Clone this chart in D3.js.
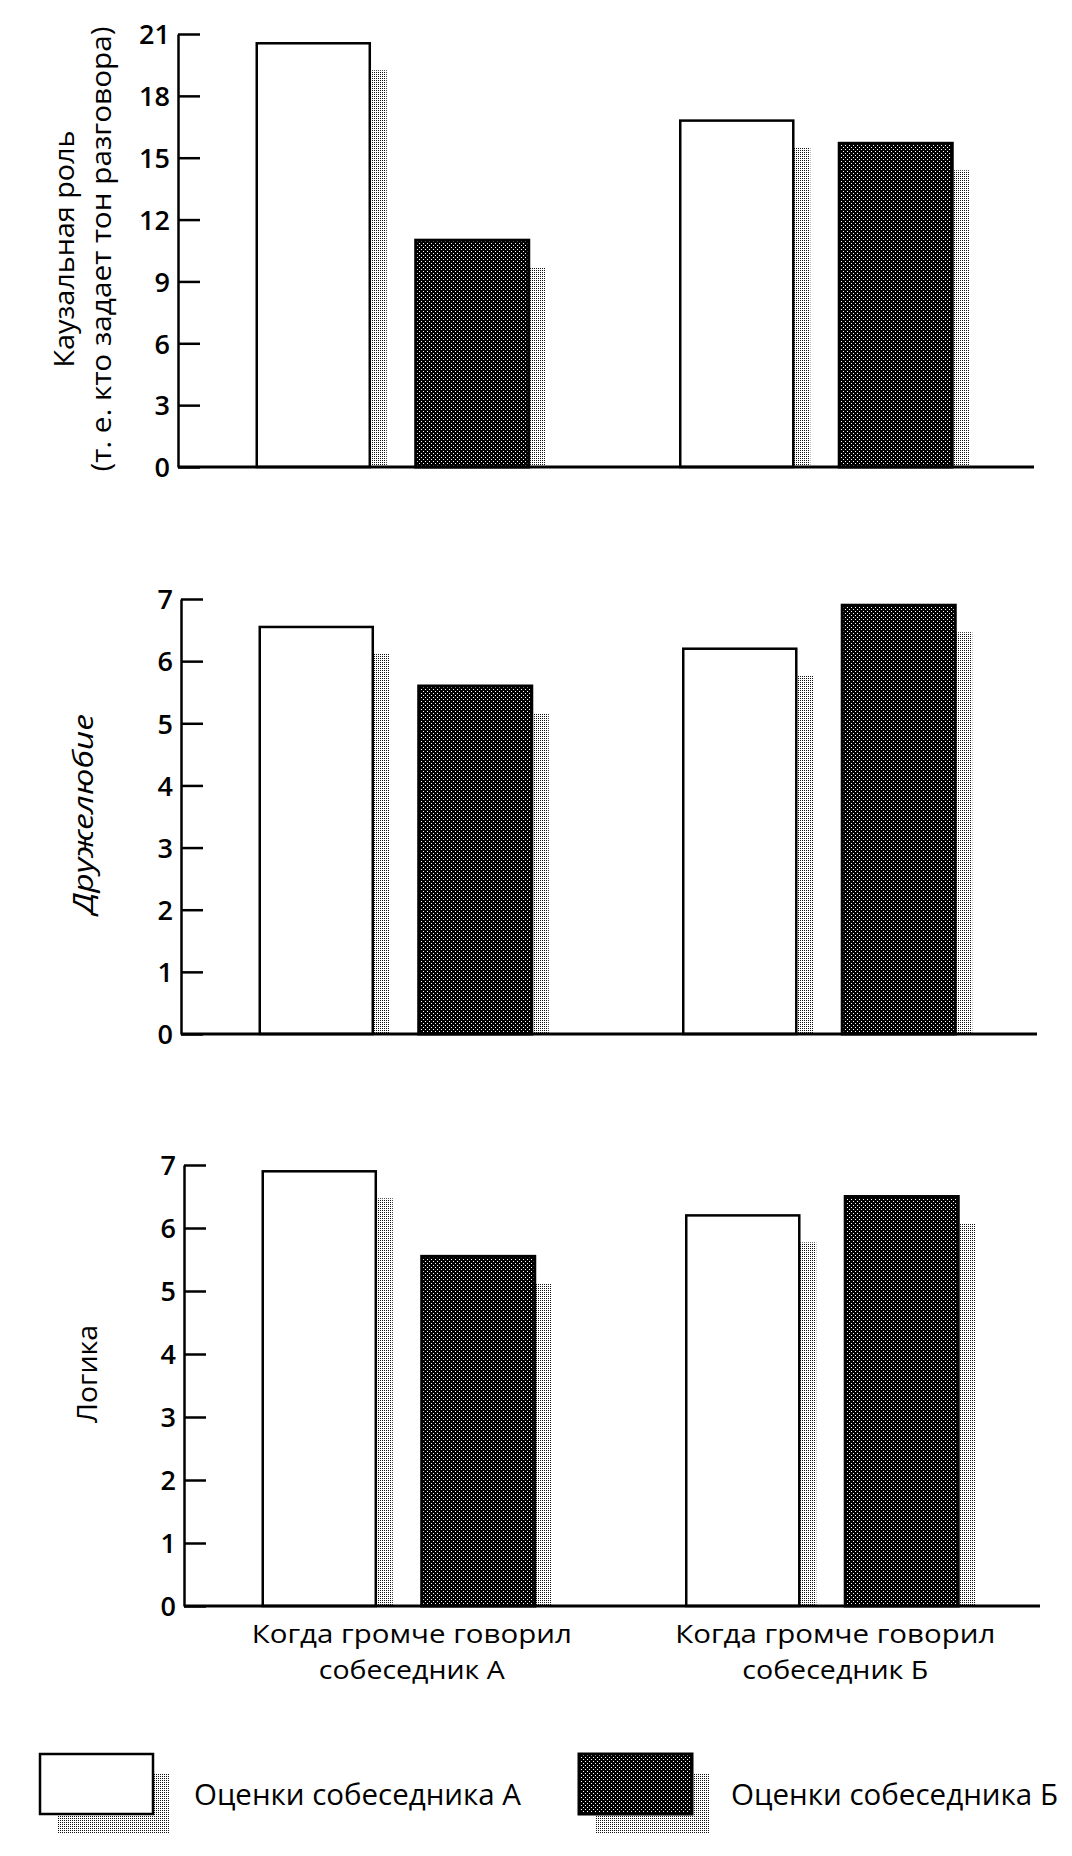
<!DOCTYPE html>
<html>
<head>
<meta charset="utf-8">
<script src="https://cdn.jsdelivr.net/npm/d3@7"></script>
<style>
  html, body { margin: 0; padding: 0; background: #fff; }
  svg { display: block; }
  text { font-family: "Open Sans", "Noto Sans", "DejaVu Sans", sans-serif; fill: #000; }
</style>
</head>
<body>
<svg id="chart" width="1072" height="1856"></svg>
<script>
// ---------- DATA ----------
const categories = ["Когда громче говорил собеседник А", "Когда громче говорил собеседник Б"];
const categoryLines = [["Когда громче говорил", "собеседник А"], ["Когда громче говорил", "собеседник Б"]];
const series = ["Оценки собеседника А", "Оценки собеседника Б"];

// values per category: [rating by A, rating by B]
const causalValues = [[20.55, 11.0], [16.8, 15.7]];
const friendlyValues = [[6.55, 5.6], [6.2, 6.9]];
const logicValues = [[6.9, 5.55], [6.2, 6.5]];

const causalTicks = [0, 3, 6, 9, 12, 15, 18, 21];
const sevenTicks = [0, 1, 2, 3, 4, 5, 6, 7];

const causalTitle = ["Каузальная роль", "(т. е. кто задает тон разговора)"];
const friendlyTitle = ["Дружелюбие"];
const logicTitle = ["Логика"];

// ---------- LAYOUT ----------
const panels = [
  { values: causalValues, ticks: causalTicks, max: 21, y0: 467, y1: 34, shift: 0,
    title: causalTitle, titleX: [74, 111], titleLen: [237, 445], titleY: 249, italic: false },
  { values: friendlyValues, ticks: sevenTicks, max: 7, y0: 1034, y1: 599, shift: 3,
    title: friendlyTitle, titleX: [93], titleLen: [200], titleY: 814, italic: true },
  { values: logicValues, ticks: sevenTicks, max: 7, y0: 1606, y1: 1165, shift: 6,
    title: logicTitle, titleX: [97], titleLen: [98], titleY: 1374, italic: false }
];

const svg = d3.select("#chart");
const defs = svg.append("defs");

// dark stipple fill
const pDark = defs.append("pattern").attr("id", "dark").attr("patternUnits", "userSpaceOnUse")
  .attr("width", 4).attr("height", 4);
pDark.append("rect").attr("width", 4).attr("height", 4).attr("fill", "#000");
pDark.append("rect").attr("x", 1).attr("y", 1).attr("width", 1).attr("height", 1).attr("fill", "#fff");
pDark.append("rect").attr("x", 3).attr("y", 3).attr("width", 1).attr("height", 1).attr("fill", "#fff");

// light shadow stipple
const pShade = defs.append("pattern").attr("id", "shade").attr("patternUnits", "userSpaceOnUse")
  .attr("width", 2).attr("height", 2);
pShade.append("rect").attr("width", 2).attr("height", 2).attr("fill", "#fff");
pShade.append("rect").attr("x", 0).attr("y", 0).attr("width", 1).attr("height", 1).attr("fill", "#111");

const fills = ["#fff", "url(#dark)"];
const strokes = [2.5, 3];
const shadowDx = 17, shadowDy = 27;

panels.forEach((p, pi) => {
  const g = svg.append("g");
  const axisX = 178 + p.shift;
  const endX = 1034 + p.shift;

  const y = d3.scaleLinear().domain([0, p.max]).range([p.y0, p.y1]);
  const xc = d3.scaleBand().domain(categories).range([181 + p.shift, 1028 + p.shift]).padding(0);
  const xs = d3.scaleBand().domain(series).range([75.75, 347.75]).paddingInner(0.289).paddingOuter(0);
  const bw = xs.bandwidth();

  const items = [];
  categories.forEach((c, ci) => series.forEach((s, si) => items.push({ c, ci, s, si, v: p.values[ci][si] })));

  // shadows
  g.selectAll("rect.shadow").data(items).join("rect")
    .attr("class", "shadow")
    .attr("x", d => xc(d.c) + xs(d.s) + shadowDx)
    .attr("y", d => y(d.v) + shadowDy)
    .attr("width", bw)
    .attr("height", d => Math.max(0, p.y0 - (y(d.v) + shadowDy)))
    .attr("fill", "url(#shade)");

  // bars
  g.selectAll("rect.bar").data(items).join("rect")
    .attr("class", "bar")
    .attr("x", d => xc(d.c) + xs(d.s))
    .attr("y", d => y(d.v))
    .attr("width", bw)
    .attr("height", d => p.y0 - y(d.v))
    .attr("fill", d => fills[d.si])
    .attr("stroke", "#000")
    .attr("stroke-width", d => strokes[d.si]);

  // baseline
  g.append("line").attr("x1", axisX).attr("x2", endX).attr("y1", p.y0).attr("y2", p.y0)
    .attr("stroke", "#000").attr("stroke-width", 3);

  // y axis
  const ax = g.append("g").attr("transform", `translate(${axisX},0)`)
    .call(d3.axisLeft(y).tickValues(p.ticks).tickSizeInner(-22).tickSizeOuter(0).tickPadding(8)
      .tickFormat(d3.format("d")));
  ax.attr("font-size", null).attr("font-family", null);
  ax.select(".domain").attr("stroke", "#000").attr("stroke-width", 2.5);
  ax.selectAll(".tick line").attr("stroke", "#000").attr("stroke-width", 2.5);
  ax.selectAll(".tick text").attr("font-size", 27).attr("font-weight", 600).attr("fill", "#000")
    .attr("dy", "0.36em");

  // y title
  p.title.forEach((t, ti) => {
    g.append("text")
      .attr("transform", `translate(${p.titleX[ti]},${p.titleY}) rotate(-90)`)
      .attr("text-anchor", "middle")
      .attr("font-size", 28)
      .attr("font-style", p.italic ? "italic" : "normal")
      .attr("textLength", p.titleLen[ti]).attr("lengthAdjust", "spacingAndGlyphs")
      .text(t);
  });

  // category labels only on the bottom panel
  if (pi === panels.length - 1) {
    categories.forEach((c, ci) => {
      const cx = xc(c) + xc.bandwidth() / 2 + 13;
      const lens = [320, 186];
      categoryLines[ci].forEach((line, li) => {
        g.append("text")
          .attr("x", cx)
          .attr("y", p.y0 + 37 + li * 36)
          .attr("text-anchor", "middle")
          .attr("font-size", 26)
          .attr("textLength", lens[li]).attr("lengthAdjust", "spacingAndGlyphs")
          .text(line);
      });
    });
  }
});

// ---------- LEGEND ----------
const legend = svg.append("g");
const legendX = [40, 579];
const legendTextX = [194, 731];
const legendY = 1754, boxW = 113, boxH = 60;
series.forEach((s, si) => {
  legend.append("rect").attr("x", legendX[si] + 17).attr("y", legendY + 20)
    .attr("width", boxW).attr("height", boxH).attr("fill", "url(#shade)");
  legend.append("rect").attr("x", legendX[si]).attr("y", legendY)
    .attr("width", boxW).attr("height", boxH)
    .attr("fill", fills[si]).attr("stroke", "#000").attr("stroke-width", strokes[si]);
  legend.append("text").attr("x", legendTextX[si]).attr("y", 1805)
    .attr("font-size", 29)
    .attr("textLength", 327).attr("lengthAdjust", "spacingAndGlyphs")
    .text(s);
});
</script>
</body>
</html>
